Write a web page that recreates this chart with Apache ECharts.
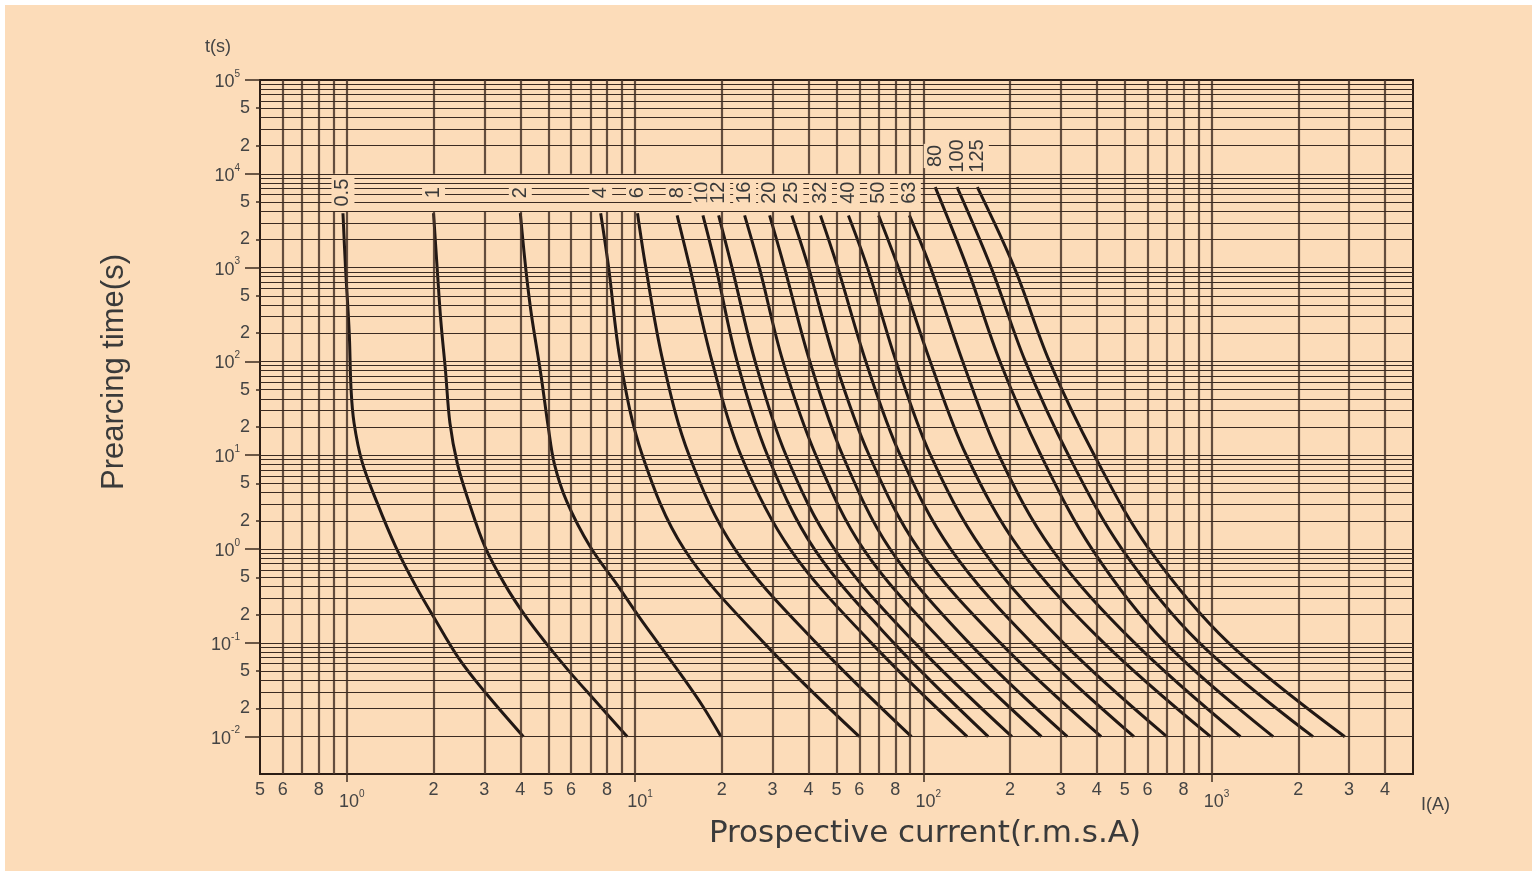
<!DOCTYPE html>
<html>
<head>
<meta charset="utf-8">
<script src="https://cdn.jsdelivr.net/npm/echarts@6/dist/echarts.min.js"></script>
<style>
html,body{margin:0;padding:0;background:#ffffff;}
#c{position:absolute;left:5px;top:5px;width:1527px;height:866px;background:#fcdcb9;}
</style>
</head>
<body>
<div id="c"></div>
<script>
// ---------------- data ----------------
const ratings = ['0.5','1','2','4','6','8','10','12','16','20','25','32','40','50','63','80','100','125'];

// [current (A), prearcing time (s)]
const curve_0_5 = [[0.97,3800],[0.99,1000],[1.02,200],[1.035,50],[1.06,22],[1.13,8.5],[1.27,3.2],[1.48,1.05],[1.73,0.41],[2.0,0.19],[2.45,0.068],[3.04,0.029],[4.1,0.01]];
const curve_1   = [[2.0,3800],[2.06,960],[2.12,270],[2.2,80],[2.28,22],[2.42,8.1],[2.65,3.2],[3.02,1.05],[3.55,0.41],[4.18,0.19],[4.9,0.1],[5.9,0.05],[7.2,0.025],[9.4,0.01]];
const curve_2   = [[4.0,3800],[4.18,960],[4.37,316],[4.71,74],[5.0,20],[5.25,8.1],[5.8,3.2],[7.0,1.05],[8.7,0.41],[10.2,0.2],[12.0,0.1],[14.5,0.045],[17.2,0.021],[19.9,0.01]];
const curve_4   = [[7.6,3800],[8.1,1000],[8.9,100],[10.6,10],[14.8,1],[28.0,0.1],[60,0.01]];
const curve_6   = [[10.2,3800],[10.9,1000],[12.5,100],[15.4,10],[22.2,1],[42.5,0.1],[91,0.01]];
const curve_8   = [[14,3600],[15.5,1000],[18.5,100],[23.3,10],[34.5,1],[66,0.1],[142,0.01]];
const curve_10  = [[17.2,3600],[19.1,1000],[22.6,100],[28.8,10],[41.9,1],[79,0.1],[168,0.01]];
const curve_12  = [[19.5,3600],[21.7,1000],[26.1,100],[33.4,10],[49.2,1],[93.5,0.1],[203,0.01]];
const curve_16  = [[24,3600],[27,1000],[32.6,100],[42.4,10],[62,1],[117.6,0.1],[257,0.01]];
const curve_20  = [[29.3,3600],[33,1000],[40.4,100],[52.5,10],[76.7,1],[144,0.1],[316,0.01]];
const curve_25  = [[35,3600],[40,1000],[49.4,100],[64.9,10],[96.4,1],[185,0.1],[414,0.01]];
const curve_32  = [[44,3600],[50.5,1000],[63.2,100],[83.2,10],[124.5,1],[238,0.1],[538,0.01]];
const curve_40  = [[55,3600],[64,1000],[80.5,100],[106,10],[160,1],[306,0.1],[700,0.01]];
const curve_50  = [[70,3600],[82,1000],[105.7,100],[141,10],[216,1],[423,0.1],[993,0.01]];
const curve_63  = [[89.5,3600],[106,1000],[137,100],[183,10],[279,1],[541,0.1],[1260,0.01]];
const curve_80  = [[110,7200],[142,1000],[184.5,100],[256,10],[385,1],[692,0.1],[1636,0.01]];
const curve_100 = [[131,7200],[172,1000],[226,100],[319,10],[489,1],[908,0.1],[2250,0.01]];
const curve_125 = [[154,7200],[207,1000],[274,100],[392,10],[607,1],[1146,0.1],[2900,0.01]];

const curves = [curve_0_5,curve_1,curve_2,curve_4,curve_6,curve_8,curve_10,curve_12,curve_16,curve_20,curve_25,curve_32,curve_40,curve_50,curve_63,curve_80,curve_100,curve_125];

// axis ranges
const xRange = [0.5, 5000];
const yRange = [0.004, 100000];

// grid lines
const xGridValues = [0.6,0.7,0.8,0.9,1,2,3,4,5,6,7,8,9,10,20,30,40,50,60,70,80,90,100,200,300,400,500,600,700,800,900,1000,2000,3000,4000];
const yGridValues = [0.005,0.006,0.007,0.008,0.009,0.01,0.02,0.03,0.04,0.05,0.06,0.07,0.08,0.09,0.1,0.2,0.3,0.4,0.5,0.6,0.7,0.8,0.9,1,2,3,4,5,6,7,8,9,10,20,30,40,50,60,70,80,90,100,200,300,400,500,600,700,800,900,1000,2000,3000,4000,5000,6000,7000,8000,9000,10000,20000,30000,40000,50000,60000,70000,80000,90000];
// vertical lines interrupted by the rating-label band
const xGappedValues = [0.9,1,2,3,4,5,6,7,8,9,10,20,30,40,50,60,70,80,90];
const labelBand = [4000, 10000];

// tick labels
const xTickLabels = [0.5,0.6,0.8,2,3,4,5,6,8,20,30,40,50,60,80,200,300,400,500,600,800,2000,3000,4000];
const xDecadeLabels = [1,10,100,1000];
const yTickLabels = [0.02,0.05,0.2,0.5,2,5,20,50,200,500,2000,5000,20000,50000];
const yDecadeLabels = [0.01,0.1,1,10,100,1000,10000,100000];

// label heights (s)
const labelT = 6300;
const labelTHigh = 15500;

// ---------------- chart ----------------
const INK = '#444444';
const HLINE = '#3b2b21';
const VLINE = 'rgba(72,52,40,0.85)';
const BG = '#fcdcb9';

function leadDigit(v){
  const e = Math.floor(Math.log10(v) + 1e-9);
  return String(Math.round(v / Math.pow(10, e)));
}
function decadeLabel(v){
  const e = Math.round(Math.log10(v));
  return '{b|10}{s|' + e + '}';
}
const decadeRich = {
  b: {fontSize: 18, color: INK, fontFamily: 'Liberation Sans', lineHeight: 22, verticalAlign: 'bottom'},
  s: {fontSize: 10, color: INK, fontFamily: 'Liberation Sans', lineHeight: 22, verticalAlign: 'top'}
};

const gridLines = [];
xGridValues.forEach(v => {
  const ls = {type: 'solid', width: 2.2, color: VLINE};
  if (xGappedValues.indexOf(v) >= 0) {
    gridLines.push([{coord: [v, yRange[0]], lineStyle: ls}, {coord: [v, labelBand[0]]}]);
    gridLines.push([{coord: [v, labelBand[1]], lineStyle: ls}, {coord: [v, yRange[1]]}]);
  } else {
    gridLines.push({xAxis: v, lineStyle: ls});
  }
});
yGridValues.forEach(v => {
  gridLines.push({yAxis: v, lineStyle: {type: 'solid', width: 1.2, color: HLINE}});
});

const series = [{
  type: 'line',
  data: [],
  z: 1,
  silent: true,
  animation: false,
  markLine: {
    silent: true,
    animation: false,
    symbol: ['none','none'],
    label: {show: false},
    lineStyle: {type: 'solid'},
    emphasis: {disabled: true},
    data: gridLines
  }
}];

curves.forEach((c, i) => {
  const high = i >= 15;
  series.push({
    type: 'line',
    name: ratings[i],
    data: c,
    xAxisIndex: 0,
    yAxisIndex: 0,
    showSymbol: false,
    smooth: 0.35,
    z: 3,
    animation: false,
    silent: true,
    lineStyle: {width: 3, color: '#221814'},
    markPoint: {
      symbol: 'rect',
      symbolSize: 1,
      itemStyle: {color: 'rgba(0,0,0,0)'},
      animation: false,
      silent: true,
      label: {
        show: true,
        position: 'inside',
        rotate: 90,
        formatter: ratings[i],
        fontSize: 20,
        fontFamily: 'Liberation Sans Narrow, Liberation Sans',
        color: '#3a3a3a',
        backgroundColor: BG,
        padding: [2, 1, 1, 1]
      },
      data: [{coord: [c[0][0], high ? labelTHigh : labelT]}]
    }
  });
});

const axisCommonX = {
  type: 'log', logBase: 10, min: xRange[0], max: xRange[1],
  gridIndex: 0, position: 'bottom',
  axisLine: {show: false, onZero: false},
  splitLine: {show: false}, minorSplitLine: {show: false}, minorTick: {show: false}
};
const axisCommonY = {
  type: 'log', logBase: 10, min: yRange[0], max: yRange[1],
  gridIndex: 0, position: 'left',
  axisLine: {show: false, onZero: false},
  splitLine: {show: false}, minorSplitLine: {show: false}, minorTick: {show: false}
};

const option = {
  backgroundColor: 'transparent',
  animation: false,
  grid: {left: 255, top: 75, right: 119, bottom: 97, show: true, borderColor: '#2b1d15', borderWidth: 2, backgroundColor: 'transparent'},
  xAxis: [
    Object.assign({}, axisCommonX, {
      axisTick: {show: false},
      axisLabel: {customValues: xTickLabels, formatter: leadDigit, margin: 7, fontSize: 18, color: INK, fontFamily: 'Liberation Sans'},
      name: 'Prospective current(r.m.s.A)',
      nameLocation: 'middle',
      nameGap: 44,
      nameTextStyle: {fontSize: 31, color: '#3a3a3a', fontFamily: 'DejaVu Sans', padding: [0,0,0,177]}
    }),
    Object.assign({}, axisCommonX, {
      axisTick: {show: true, customValues: xDecadeLabels, length: 8, lineStyle: {color: HLINE, width: 1.5}},
      axisLabel: {customValues: xDecadeLabels, formatter: decadeLabel, margin: 15, rich: decadeRich, padding: [0,0,0,10]},
      name: 'I(A)',
      nameLocation: 'end',
      nameGap: 8,
      nameTextStyle: {fontSize: 18, color: INK, fontFamily: 'Liberation Sans', verticalAlign: 'top', align: 'left', padding: [22,0,0,0]}
    })
  ],
  yAxis: [
    Object.assign({}, axisCommonY, {
      axisTick: {show: true, customValues: yTickLabels, length: 4, lineStyle: {color: HLINE, width: 1.5}},
      axisLabel: {customValues: yTickLabels, formatter: leadDigit, margin: 10, fontSize: 18, color: INK, fontFamily: 'Liberation Sans'},
      name: 'Prearcing time(s)',
      nameLocation: 'middle',
      nameGap: 130,
      nameRotate: 90,
      nameTextStyle: {fontSize: 31, color: '#3a3a3a', fontFamily: 'Liberation Sans Narrow, Liberation Sans', padding: [0,0,0,110]}
    }),
    Object.assign({}, axisCommonY, {
      axisTick: {show: true, customValues: yDecadeLabels, length: 15, lineStyle: {color: HLINE, width: 1.5}},
      axisLabel: {customValues: yDecadeLabels, formatter: decadeLabel, margin: 20, rich: decadeRich},
      name: 't(s)',
      nameLocation: 'end',
      nameGap: 24,
      nameTextStyle: {fontSize: 18, color: INK, fontFamily: 'Liberation Sans', padding: [0,84,0,0]}
    })
  ],
  series: series
};

const chart = echarts.init(document.getElementById('c'), null, {renderer: 'canvas'});
chart.setOption(option);
</script>
</body>
</html>
